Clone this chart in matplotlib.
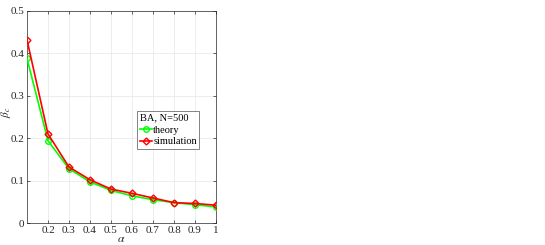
import matplotlib
matplotlib.use("Agg")
import matplotlib.pyplot as plt
from matplotlib.ticker import FixedLocator, FuncFormatter

# data
alpha = [0.1, 0.2, 0.3, 0.4, 0.5, 0.6, 0.7, 0.8, 0.9, 1.0]
beta_theory = [0.388, 0.194, 0.128, 0.097, 0.077, 0.064, 0.055, 0.048, 0.043, 0.038]
beta_sim = [0.432, 0.210, 0.132, 0.102, 0.080, 0.070, 0.059, 0.048, 0.046, 0.042]
xticks = [0.2, 0.3, 0.4, 0.5, 0.6, 0.7, 0.8, 0.9, 1.0]
yticks = [0, 0.1, 0.2, 0.3, 0.4, 0.5]

plt.rcParams["font.family"] = ["Liberation Serif", "DejaVu Serif"]
plt.rcParams["mathtext.fontset"] = "stix"

fig = plt.figure(figsize=(5.45, 2.45), dpi=100)
ax = fig.add_axes([27 / 545, 22 / 245, 189 / 545, 212 / 245])

ax.plot(alpha, beta_theory, color="#00ff00", lw=1.2, marker="o", ms=4,
        mfc="none", mew=1.0, label="theory", zorder=3)
ax.plot(alpha, beta_sim, color="#ff0000", lw=1.2, marker="D", ms=3.5,
        mfc="none", mew=1.0, label="simulation", zorder=4)

ax.set_xlim(0.1, 1.0)
ax.set_ylim(0, 0.5)
ax.xaxis.set_major_locator(FixedLocator(xticks))
ax.yaxis.set_major_locator(FixedLocator(yticks))
fmt = FuncFormatter(lambda v, p: f"{v:g}")
ax.xaxis.set_major_formatter(fmt)
ax.yaxis.set_major_formatter(fmt)
ax.tick_params(direction="in", length=2.5, width=0.5, labelsize=8,
               top=True, right=True, pad=2, colors="#262626")
ax.grid(True, color="#e6e6e6", linewidth=0.5)
ax.set_axisbelow(True)
for s in ax.spines.values():
    s.set_linewidth(0.5)
    s.set_color("#262626")

ax.set_xlabel(r"$\alpha$", fontsize=8.5, color="#262626")
ax.xaxis.set_label_coords(0.5, -0.045)
ax.set_ylabel(r"$\beta_c$", fontsize=8, color="#262626")
ax.yaxis.set_label_coords(-0.072, 0.52)

leg = ax.legend(title="BA, N=500", loc="upper left",
                bbox_to_anchor=(0.582, 0.528), fontsize=7.5, title_fontsize=7.5,
                frameon=True, fancybox=False, edgecolor="#262626",
                handlelength=1.15, handletextpad=0.15, borderpad=0.25,
                labelspacing=0.25, borderaxespad=0)
leg.get_frame().set_linewidth(0.5)
leg._legend_box.align = "left"

fig.savefig("out.png", dpi=100)
